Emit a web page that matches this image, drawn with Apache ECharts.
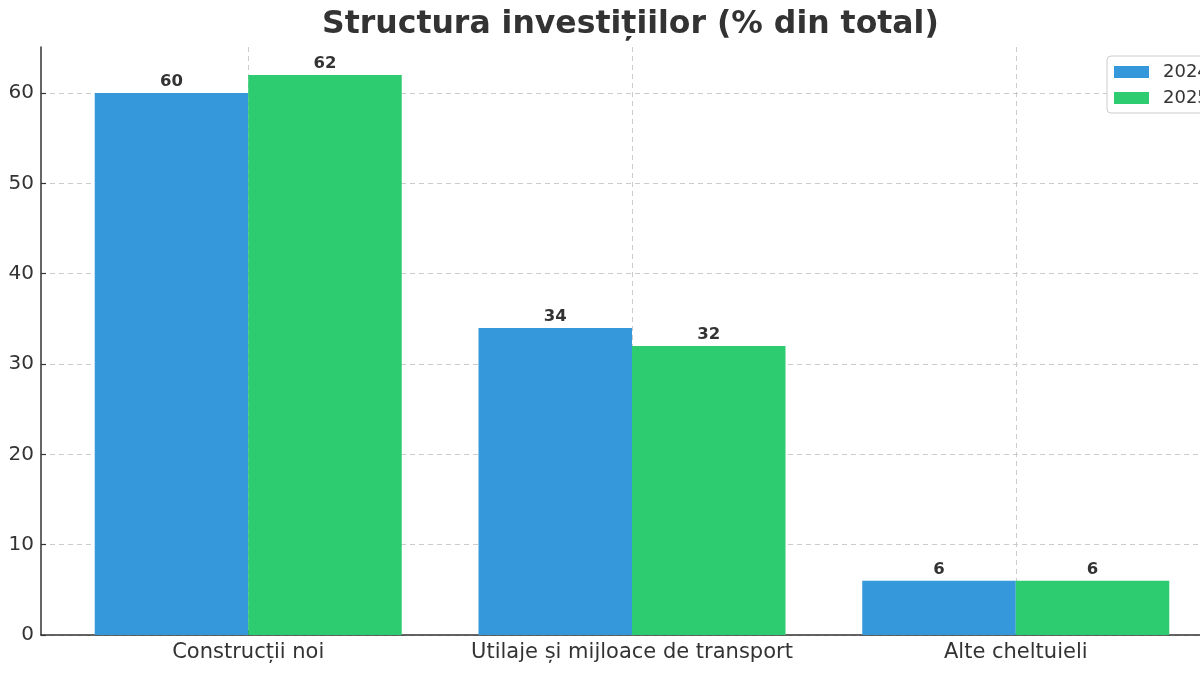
<!DOCTYPE html>
<html>
<head>
<meta charset="utf-8">
<script src="https://cdn.jsdelivr.net/npm/echarts@6/dist/echarts.min.js"></script>
<style>html,body{margin:0;padding:0;background:#fff;overflow:hidden;width:1200px;height:675px}#c{width:1240px;height:675px}</style>
</head>
<body>
<div id="c"></div>
<script>
const titleText = 'Structura investițiilor (% din total)';
const categories = ['Construcții noi', 'Utilaje și mijloace de transport', 'Alte cheltuieli'];
const seriesNames = ['2024', '2025'];
const values2024 = [60, 34, 6];
const values2025 = [62, 32, 6];
const yTicks = [0, 10, 20, 30, 40, 50, 60];
const xTicks = [0, 1, 2];

const FONT = 'DejaVu Sans';
const BAR_W = 0.4;
const colors = ['#3498db', '#2ecc71'];

function makeSeries(name, values, offset, color) {
  return {
    name: name,
    type: 'custom',
    itemStyle: { color: color },
    encode: { x: 0, y: 1 },
    data: values.map((v, i) => [i, v]),
    renderItem: function (params, api) {
      const x = api.value(0) + offset;
      const v = api.value(1);
      const p1 = api.coord([x - BAR_W / 2, v]);
      const p2 = api.coord([x + BAR_W / 2, 0]);
      return {
        type: 'rect',
        shape: { x: p1[0], y: p1[1], width: p2[0] - p1[0], height: p2[1] - p1[1] },
        style: { fill: color },
        textContent: {
          style: {
            text: String(v),
            fill: '#333333',
            font: 'bold 16.5px "' + FONT + '"'
          }
        },
        textConfig: { position: 'top', distance: 3 }
      };
    }
  };
}

const chart = echarts.init(document.getElementById('c'), null, { renderer: 'canvas' });
chart.setOption({
  animation: false,
  backgroundColor: '#ffffff',
  textStyle: { fontFamily: FONT },
  title: {
    text: titleText,
    left: 322,
    top: 9,
    padding: 0,
    textStyle: { fontFamily: FONT, fontSize: 31.5, fontWeight: 'bold', color: '#333333' }
  },
  legend: {
    orient: 'vertical',
    left: 1107,
    top: 56,
    padding: [7, 8, 6, 7],
    itemWidth: 35,
    itemHeight: 12,
    itemGap: 8,
    borderColor: '#cccccc',
    borderWidth: 1,
    borderRadius: 4,
    backgroundColor: '#ffffff',
    data: seriesNames.map(n => ({ name: n, icon: 'rect' })),
    textStyle: { fontFamily: FONT, fontSize: 18, color: '#333333', padding: [0, 0, 0, 9] }
  },
  grid: { left: 41, right: 17, top: 47, bottom: 40, containLabel: false },
  xAxis: {
    type: 'value',
    min: -0.54,
    max: 2.54,
    axisLine: { show: true, onZero: false, lineStyle: { color: '#333333', width: 1.5 } },
    axisTick: { show: true, inside: true, length: 5, customValues: xTicks, lineStyle: { color: '#333333', width: 1.2 } },
    axisLabel: {
      customValues: xTicks,
      formatter: v => categories[Math.round(v)] || '',
      fontFamily: FONT, fontSize: 21, color: '#333333', margin: 7
    },
    splitLine: { show: true, lineStyle: { color: '#cccccc', type: [5, 4], width: 1 } }
  },
  yAxis: {
    type: 'value',
    min: 0,
    max: 65.1,
    axisLine: { show: true, onZero: false, lineStyle: { color: '#333333', width: 1.5 } },
    axisTick: { show: true, inside: true, length: 5, customValues: yTicks, lineStyle: { color: '#333333', width: 1.2 } },
    axisLabel: { customValues: yTicks, fontFamily: FONT, fontSize: 20, color: '#333333', margin: 7, padding: [4, 0, 0, 0] },
    splitLine: { show: true, lineStyle: { color: '#cccccc', type: [5, 4], width: 1 } }
  },
  series: [
    makeSeries(seriesNames[0], values2024, -0.2, colors[0]),
    makeSeries(seriesNames[1], values2025, 0.2, colors[1])
  ]
});
</script>
</body>
</html>
